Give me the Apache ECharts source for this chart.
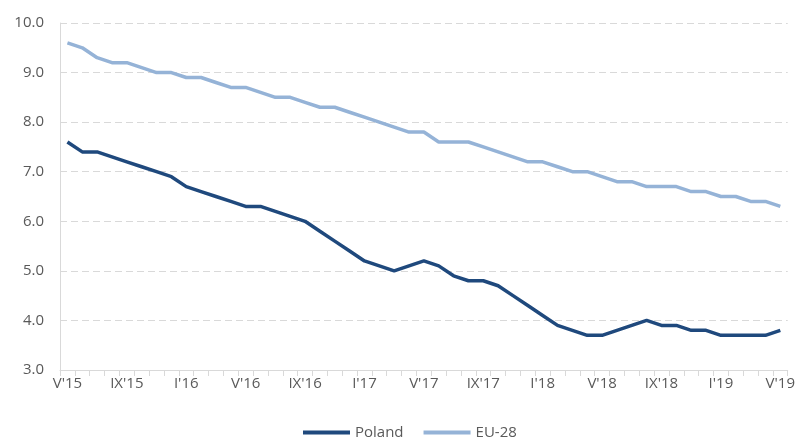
<!DOCTYPE html>
<html>
<head>
<meta charset="utf-8">
<script src="https://cdn.jsdelivr.net/npm/echarts@6/dist/echarts.min.js"></script>
<style>
  html, body { margin: 0; padding: 0; background: #fff; }
  #main { width: 798px; height: 437px; }
</style>
</head>
<body>
<div id="main"></div>
<script type="text/javascript">
// monthly data, V'15 .. V'19
var romanMonths = ['I', 'II', 'III', 'IV', 'V', 'VI', 'VII', 'VIII', 'IX', 'X', 'XI', 'XII'];
var startYear = 15, startMonth = 4, monthCount = 49;

var poland = [
    7.6, 7.4, 7.4, 7.3, 7.2, 7.1, 7.0, 6.9, 6.7, 6.6,
    6.5, 6.4, 6.3, 6.3, 6.2, 6.1, 6.0, 5.8, 5.6, 5.4,
    5.2, 5.1, 5.0, 5.1, 5.2, 5.1, 4.9, 4.8, 4.8, 4.7,
    4.5, 4.3, 4.1, 3.9, 3.8, 3.7, 3.7, 3.8, 3.9, 4.0,
    3.9, 3.9, 3.8, 3.8, 3.7, 3.7, 3.7, 3.7, 3.8
];
var eu28 = [
    9.6, 9.5, 9.3, 9.2, 9.2, 9.1, 9.0, 9.0, 8.9, 8.9,
    8.8, 8.7, 8.7, 8.6, 8.5, 8.5, 8.4, 8.3, 8.3, 8.2,
    8.1, 8.0, 7.9, 7.8, 7.8, 7.6, 7.6, 7.6, 7.5, 7.4,
    7.3, 7.2, 7.2, 7.1, 7.0, 7.0, 6.9, 6.8, 6.8, 6.7,
    6.7, 6.7, 6.6, 6.6, 6.5, 6.5, 6.4, 6.4, 6.3
];

var months = [];
for (var i = 0; i < monthCount; i++) {
    var m = (startMonth + i) % 12;
    var y = startYear + Math.floor((startMonth + i) / 12);
    months.push(romanMonths[m] + "'" + y);
}

var labelColor = '#595959';
var lineGray = '#d9d9d9';
var font = 'Open Sans, Noto Sans, sans-serif';

var myChart = echarts.init(document.getElementById('main'));
var option = {
    animation: false,
    grid: { left: 60, right: 10, top: 23, bottom: 67, containLabel: false },
    legend: {
        top: 420,
        left: 298,
        icon: 'rect',
        itemWidth: 47,
        itemHeight: 4,
        itemGap: 20,
        textStyle: { color: labelColor, fontSize: 15, fontFamily: font },
        data: ['Poland', 'EU-28']
    },
    xAxis: {
        type: 'category',
        data: months,
        boundaryGap: true,
        axisLine: { lineStyle: { color: lineGray, width: 1 } },
        axisTick: { show: true, interval: 0, length: 6, lineStyle: { color: lineGray } },
        axisLabel: { interval: 3, color: labelColor, fontSize: 15, fontFamily: font, margin: 6 }
    },
    yAxis: {
        type: 'value',
        min: 3,
        max: 10,
        interval: 1,
        axisLine: { show: true, lineStyle: { color: lineGray, width: 1 } },
        axisTick: { show: false },
        axisLabel: {
            color: labelColor, fontSize: 15, fontFamily: font, margin: 16,
            formatter: function (v) { return v.toFixed(1); }
        },
        splitLine: { lineStyle: { color: lineGray, type: [7, 4], width: 1 } }
    },
    series: [
        {
            name: 'Poland',
            type: 'line',
            data: poland,
            symbol: 'none',
            itemStyle: { color: '#1f497d' },
            lineStyle: { color: '#1f497d', width: 3.5 }
        },
        {
            name: 'EU-28',
            type: 'line',
            data: eu28,
            symbol: 'none',
            itemStyle: { color: '#95b3d7' },
            lineStyle: { color: '#95b3d7', width: 3.5 }
        }
    ]
};
myChart.setOption(option);
</script>
</body>
</html>
